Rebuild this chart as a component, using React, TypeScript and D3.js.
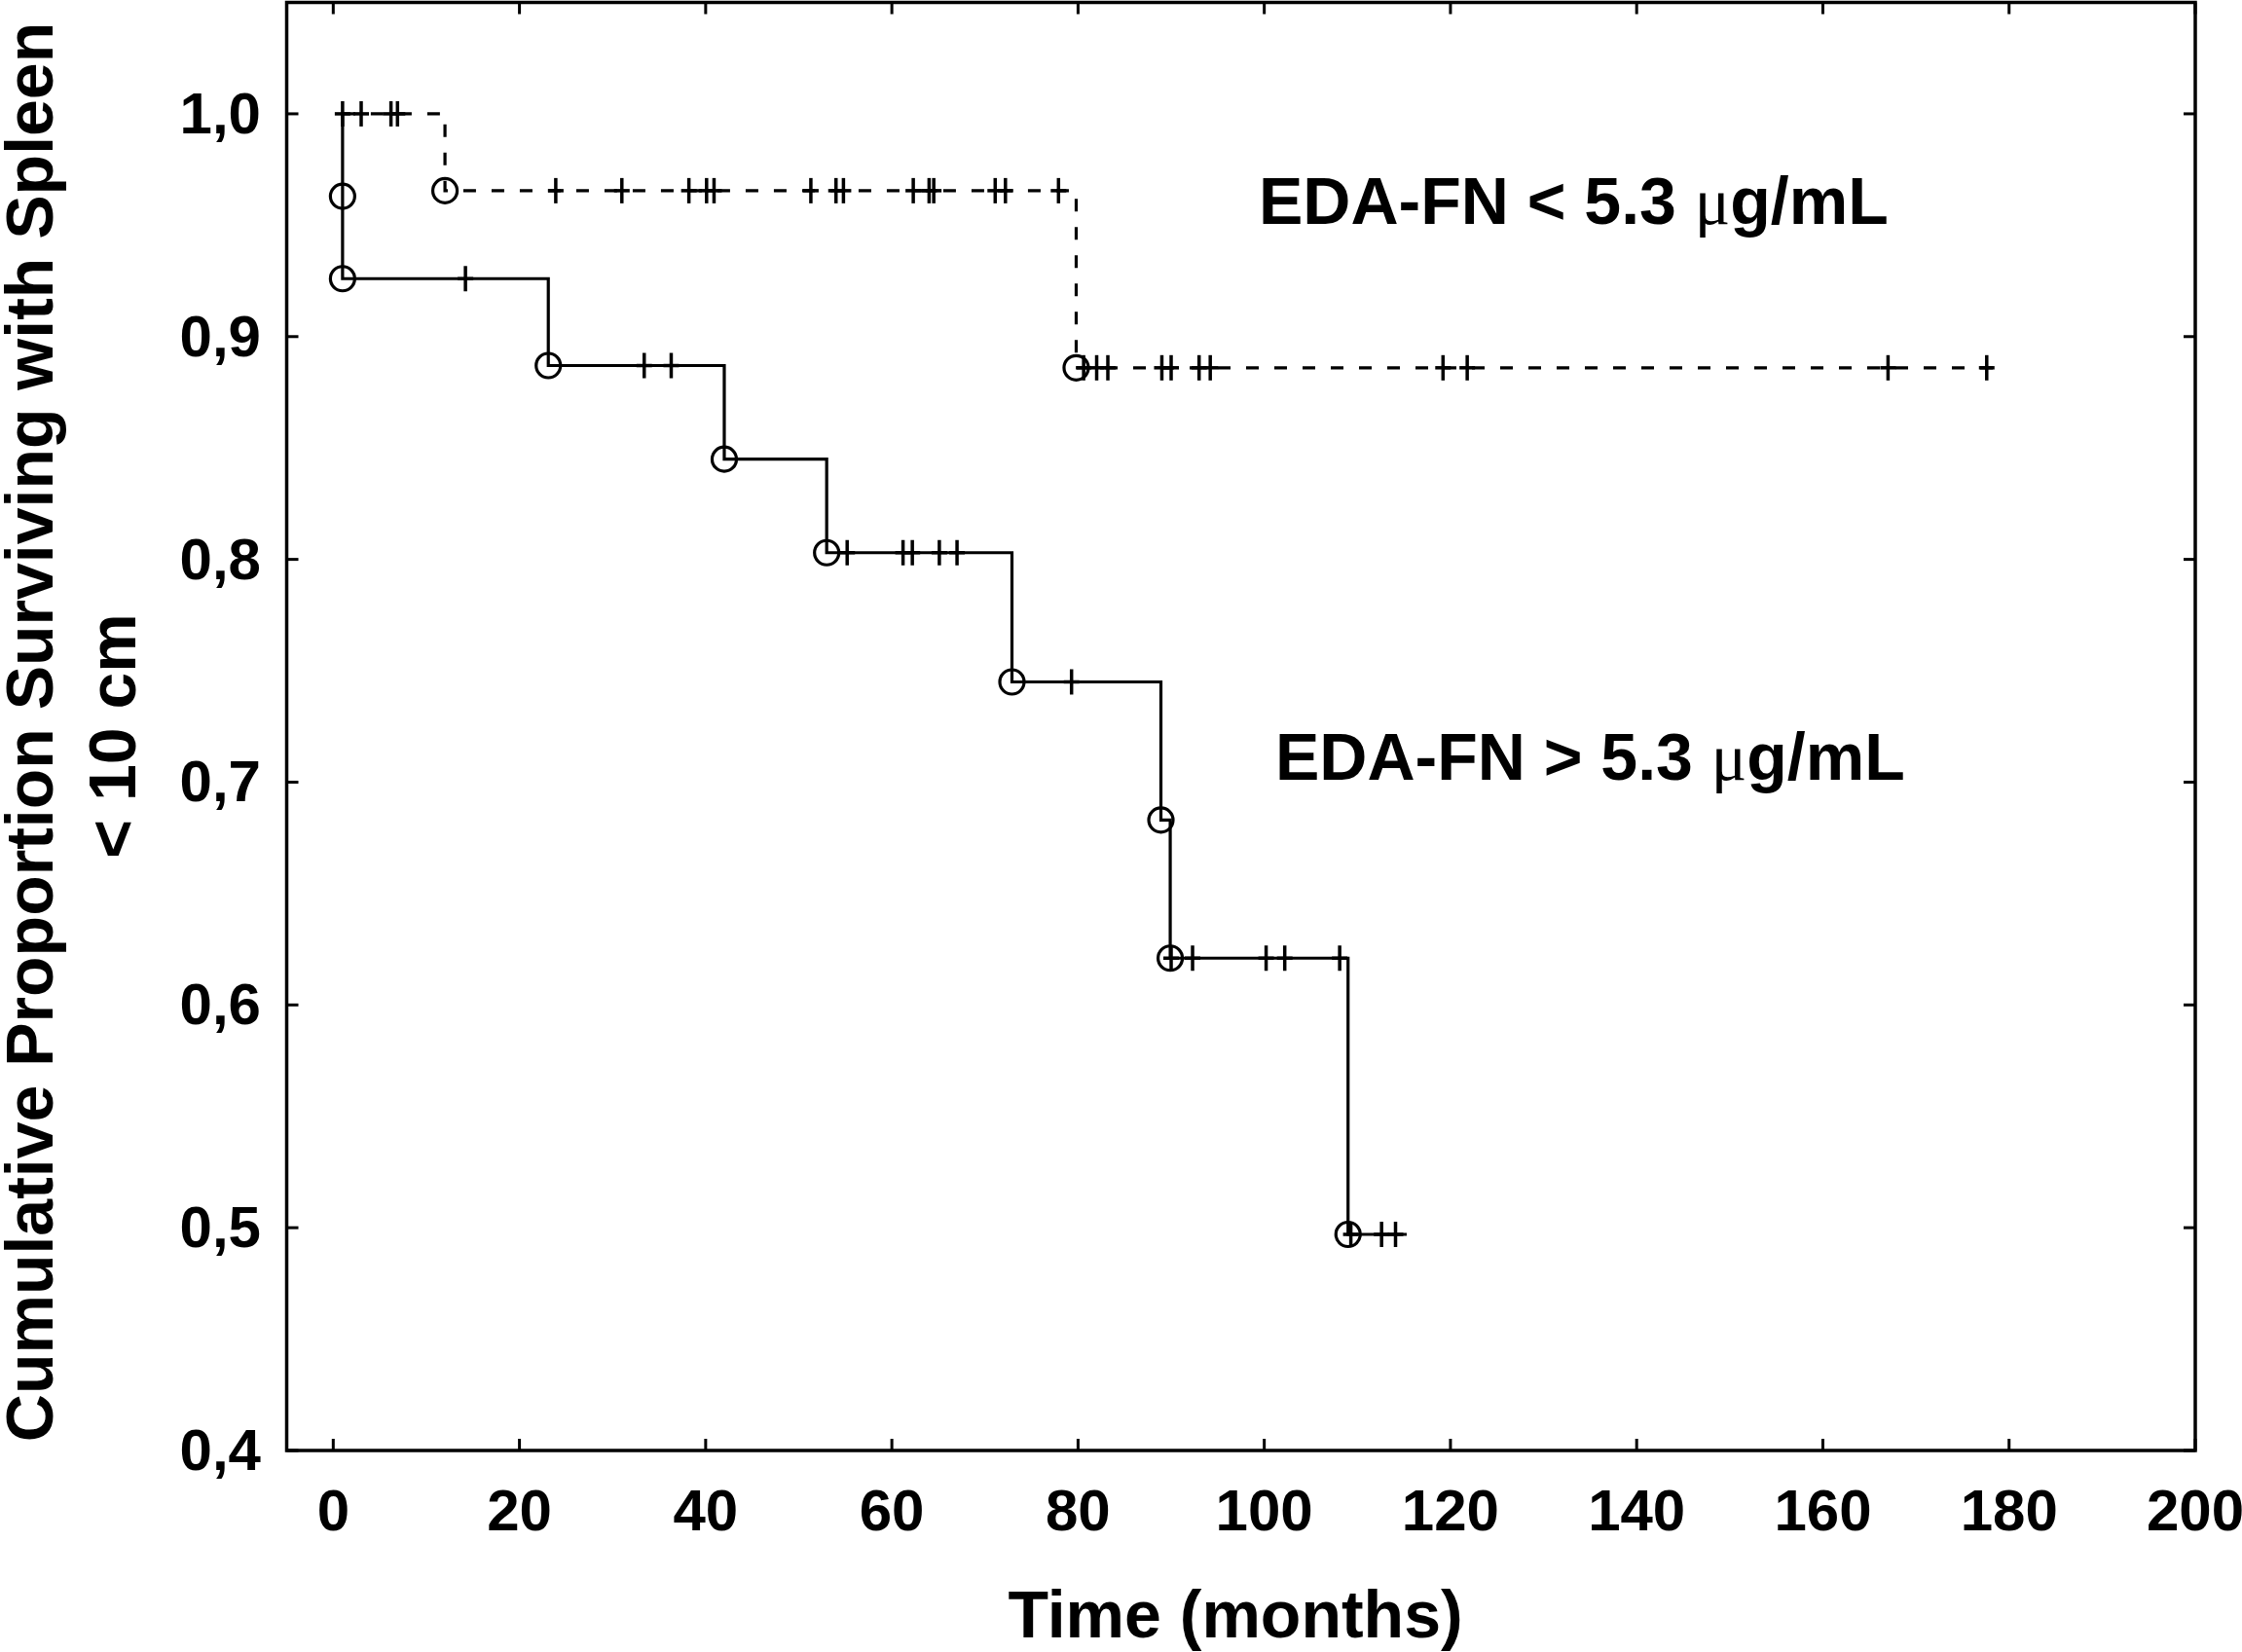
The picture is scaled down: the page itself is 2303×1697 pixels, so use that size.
import React from "react";
import * as d3 from "d3";

// ---------- data ----------
const xTicks = [0, 20, 40, 60, 80, 100, 120, 140, 160, 180, 200];
const yTicks = [0.4, 0.5, 0.6, 0.7, 0.8, 0.9, 1.0];
const yTickLabels = ["0,4", "0,5", "0,6", "0,7", "0,8", "0,9", "1,0"];

// EDA-FN > 5.3 µg/mL (solid)
const highStart = 1;
const highEventTimes = [1, 1, 23.1, 42.0, 53.0, 72.9, 88.9, 89.9, 109.0];
const highSurvival = [0.963, 0.926, 0.887, 0.845, 0.803, 0.745, 0.683, 0.621, 0.497];
const highCensorTimes = [14.2, 33.4, 36.3, 55.2, 61.2, 62.2, 65.1, 67.0, 79.3, 90.0, 92.3, 100.2, 102.2, 108.1, 109.3, 112.6, 114.1];
const highEnd = 115.3;

// EDA-FN < 5.3 µg/mL (dashed)
const lowStart = 1;
const lowEventTimes = [12.0, 79.8];
const lowSurvival = [0.9655, 0.886];
const lowCensorTimes = [1.0, 3.0, 6.2, 6.9, 23.9, 31.0, 38.2, 40.1, 40.9, 51.3, 54.0, 54.8, 62.3, 64.0, 64.5, 71.1, 72.2, 77.9, 80.6, 82.0, 83.2, 89.0, 90.0, 93.0, 94.2, 119.2, 121.8, 167.0, 177.6];
const lowEnd = 179.0;

const labelLow = "EDA-FN < 5.3 ";
const labelHigh = "EDA-FN > 5.3 ";
const xTitle = "Time (months)";
const yTitle1 = "Cumulative Proportion Surviving with Spleen";
const yTitle2 = "< 10 cm";

// ---------- layout ----------
const W = 2303;
const H = 1697;
const left = 294.5;
const right = 2255;
const top = 2.5;
const bottom = 1490;
const FONT = "'Liberation Sans', Arial, Helvetica, sans-serif";

const x = d3.scaleLinear().domain([-5, 200]).range([left, right]);
const y = d3.scaleLinear().domain([0.4, 1.05]).range([bottom, top]);

type P = [number, number];

function stepPoints(start: number, times: number[], surv: number[], end: number): P[] {
  const pts: P[] = [[start, 1]];
  times.forEach((t, i) => pts.push([t, surv[i]]));
  pts.push([end, surv[surv.length - 1]]);
  return pts;
}

function survAt(t: number, times: number[], surv: number[]): number {
  let s = 1;
  times.forEach((et, i) => {
    if (et <= t) s = surv[i];
  });
  return s;
}

const lineGen = d3
  .line<P>()
  .x((d) => x(d[0]))
  .y((d) => y(d[1]))
  .curve(d3.curveStepAfter);

function Censor({ t, s }: { t: number; s: number }) {
  const cx = x(t);
  const cy = y(s);
  return (
    <g stroke="#000" strokeWidth={3.5}>
      <line x1={cx} x2={cx} y1={cy - 13} y2={cy + 13} />
      <line x1={cx - 8} x2={cx + 8} y1={cy} y2={cy} />
    </g>
  );
}

function Curve({
  start,
  times,
  surv,
  censors,
  end,
  dash,
}: {
  start: number;
  times: number[];
  surv: number[];
  censors: number[];
  end: number;
  dash?: string;
}) {
  const pts = stepPoints(start, times, surv, end);
  return (
    <g>
      <path d={lineGen(pts) || ""} fill="none" stroke="#000" strokeWidth={3.2} strokeDasharray={dash} />
      {times.map((t, i) => (
        <circle key={"c" + i} cx={x(t)} cy={y(surv[i])} r={12.5} fill="none" stroke="#000" strokeWidth={3.2} />
      ))}
      {censors.map((t, i) => (
        <Censor key={"k" + i} t={t} s={survAt(t, times, surv)} />
      ))}
    </g>
  );
}

export default function App() {
  const tickLen = 12;
  return (
    <svg
      width={W}
      height={H}
      viewBox={`0 0 ${W} ${H}`}
      style={{ position: "absolute", left: 0, top: 0, background: "#fff" }}
    >
      <rect x={0} y={0} width={W} height={H} fill="#fff" />

      {/* frame */}
      <rect x={left} y={top} width={right - left} height={bottom - top} fill="none" stroke="#000" strokeWidth={3.5} />

      {/* x ticks (bottom and top) */}
      {xTicks.map((t) => (
        <g key={"xt" + t} stroke="#000" strokeWidth={3}>
          <line x1={x(t)} x2={x(t)} y1={bottom} y2={bottom - tickLen} />
          <line x1={x(t)} x2={x(t)} y1={top} y2={top + tickLen} />
        </g>
      ))}
      {/* y ticks (left and right) */}
      {yTicks.map((t) => (
        <g key={"yt" + t} stroke="#000" strokeWidth={3}>
          <line x1={left} x2={left + tickLen} y1={y(t)} y2={y(t)} />
          <line x1={right} x2={right - tickLen} y1={y(t)} y2={y(t)} />
        </g>
      ))}

      {/* tick labels */}
      {xTicks.map((t) => (
        <text
          key={"xl" + t}
          x={x(t)}
          y={1572}
          textAnchor="middle"
          fontFamily={FONT}
          fontWeight="bold"
          fontSize={60}
          fill="#000"
        >
          {t}
        </text>
      ))}
      {yTicks.map((t, i) => (
        <text
          key={"yl" + t}
          x={268}
          y={y(t) + 20}
          textAnchor="end"
          fontFamily={FONT}
          fontWeight="bold"
          fontSize={60}
          fill="#000"
        >
          {yTickLabels[i]}
        </text>
      ))}

      {/* curves */}
      <Curve start={lowStart} times={lowEventTimes} surv={lowSurvival} censors={lowCensorTimes} end={lowEnd} dash="13 16" />
      <Curve start={highStart} times={highEventTimes} surv={highSurvival} censors={highCensorTimes} end={highEnd} />

      {/* annotations */}
      <text x={1293} y={230} fontFamily={FONT} fontWeight="bold" fontSize={68} fill="#000">
        {labelLow}
        <tspan fontFamily="'Liberation Serif', serif" fontWeight="normal">μ</tspan>
        <tspan>g/mL</tspan>
      </text>
      <text x={1310} y={801} fontFamily={FONT} fontWeight="bold" fontSize={68} fill="#000">
        {labelHigh}
        <tspan fontFamily="'Liberation Serif', serif" fontWeight="normal">μ</tspan>
        <tspan>g/mL</tspan>
      </text>

      {/* axis titles */}
      <text x={1269} y={1682} textAnchor="middle" fontFamily={FONT} fontWeight="bold" fontSize={68} fill="#000">
        {xTitle}
      </text>
      <text
        transform="translate(54,752) rotate(-90)"
        textAnchor="middle"
        fontFamily={FONT}
        fontWeight="bold"
        fontSize={68}
        fill="#000"
      >
        {yTitle1}
      </text>
      <text
        transform="translate(139,756) rotate(-90)"
        textAnchor="middle"
        fontFamily={FONT}
        fontWeight="bold"
        fontSize={68}
        fill="#000"
      >
        {yTitle2}
      </text>
    </svg>
  );
}
